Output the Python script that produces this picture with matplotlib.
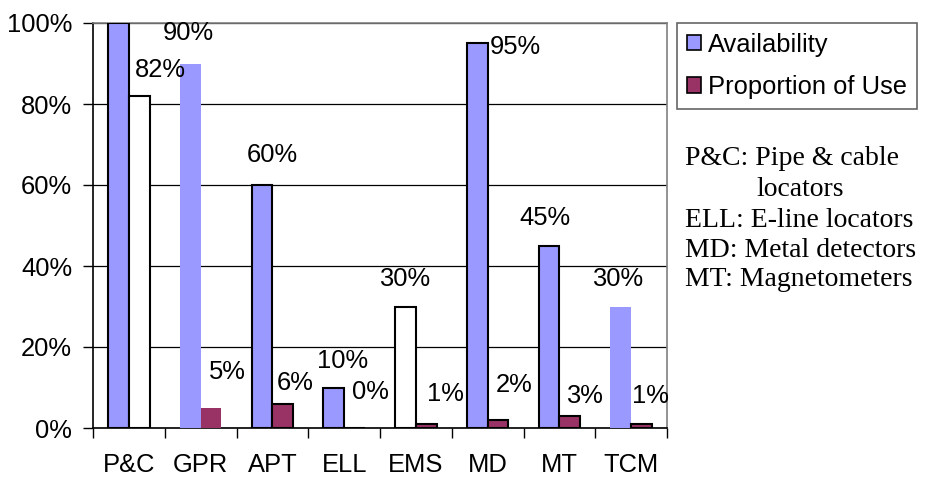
import matplotlib
matplotlib.use("Agg")
import matplotlib.pyplot as plt
import numpy as np
from matplotlib.patches import Patch

categories = ["P&C", "GPR", "APT", "ELL", "EMS", "MD", "MT", "TCM"]
availability = [100, 90, 60, 10, 30, 95, 45, 30]
proportion_use = [82, 5, 6, 0, 1, 2, 3, 1]
avail_labels = ["", "90%", "60%", "10%", "30%", "95%", "45%", "30%"]
use_labels = ["82%", "5%", "6%", "0%", "1%", "2%", "3%", "1%"]
y_ticks = [0, 20, 40, 60, 80, 100]
notes = ["P&C: Pipe & cable", "locators", "ELL: E-line locators",
         "MD: Metal detectors", "MT: Magnetometers"]

BLUE = "#9999FF"
RED = "#993366"
FS = 18.4

# per-bar styling quirks of the original
avail_face = [BLUE, BLUE, BLUE, BLUE, "white", BLUE, BLUE, BLUE]
avail_edge = [True, False, True, True, True, True, True, False]
use_face = ["white", RED, RED, RED, RED, RED, RED, RED]
use_edge = [True, False, True, True, True, True, True, True]
# label offsets in pixels (dx, dy) from bar top center
avail_off = [(0, 0), (-2, 30), (10, 30), (9, 27), (-1, 28), (38, -4), (-4, 28), (-3, 27)]
use_off = [(21, 26), (16, 36), (12, 21), (16, 36), (19, 30), (16, 35), (15, 20), (9, 28)]

plt.rcParams['font.family'] = ['Liberation Sans', 'DejaVu Sans']

fig = plt.figure(figsize=(9.3, 4.78), dpi=100)
ax = fig.add_axes([93/930, 50/478, (667-93)/930, (428-23)/478])

x = np.arange(len(categories))
w = 0.29
for i in range(len(categories)):
    ax.bar(x[i] - w/2, availability[i], w, color=avail_face[i],
           edgecolor="black" if avail_edge[i] else avail_face[i],
           linewidth=1.5 if avail_edge[i] else 0, zorder=3)
    ax.bar(x[i] + w/2, proportion_use[i], w, color=use_face[i],
           edgecolor="black" if use_edge[i] else use_face[i],
           linewidth=1.5 if use_edge[i] else 0, zorder=3)
    if avail_labels[i]:
        ax.annotate(avail_labels[i], (x[i] - w/2, availability[i]),
                    xytext=(avail_off[i][0]*0.72, avail_off[i][1]*0.72),
                    textcoords="offset points", ha="center", va="center",
                    fontsize=FS, zorder=4)
    ax.annotate(use_labels[i], (x[i] + w/2, proportion_use[i]),
                xytext=(use_off[i][0]*0.72, use_off[i][1]*0.72),
                textcoords="offset points", ha="center", va="center",
                fontsize=FS, zorder=4)

ax.set_xlim(-0.5, len(categories) - 0.5)
ax.set_ylim(0, 100)
ax.set_yticks(y_ticks)
ax.set_yticklabels([f"{t}%" for t in y_ticks], fontsize=FS)
ax.set_xticks(x)
ax.set_xticklabels(categories, fontsize=FS)
ax.tick_params(axis="x", length=0, pad=18)
ax.set_xticks(np.arange(len(categories) + 1) - 0.5, minor=True)
ax.tick_params(axis="x", which="minor", length=7, width=1, direction="out")
ax.tick_params(axis="y", length=7, width=1, direction="out", pad=8)
ax.yaxis.grid(True, color="black", linewidth=0.9, zorder=0)
ax.set_axisbelow(True)
for s in ["top", "right"]:
    ax.spines[s].set_color("#808080")
    ax.spines[s].set_linewidth(1.2)
for s in ["left", "bottom"]:
    ax.spines[s].set_color("black")
    ax.spines[s].set_linewidth(1.2)

handles = [Patch(facecolor=BLUE, edgecolor="black", linewidth=1.2),
           Patch(facecolor=RED, edgecolor="black", linewidth=1.2)]
leg = fig.legend(handles, ["Availability", "Proportion of Use"],
                 loc="upper left", bbox_to_anchor=(677/930, 1 - 23/478),
                 fontsize=FS, frameon=True, fancybox=False, edgecolor="#404040",
                 handlelength=0.55, handleheight=0.55, handletextpad=0.3,
                 borderpad=0.38, labelspacing=0.72, borderaxespad=0)
leg.get_frame().set_linewidth(1.2)

note_x = [685, 756, 685, 685, 685]
note_base = [165, 196, 227, 257, 286]
for k, line in enumerate(notes):
    fig.text(note_x[k]/930, 1 - note_base[k]/478, line, fontsize=20.0,
             family=["Liberation Serif", "DejaVu Serif"], va="baseline", ha="left")

fig.savefig("out.png", dpi=100)
